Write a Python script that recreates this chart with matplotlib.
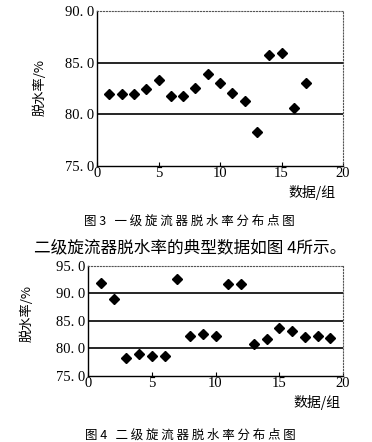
import matplotlib.pyplot as plt

plt.rcParams['font.family'] = ['Noto Sans CJK SC', 'DejaVu Sans']

# 图3 一级旋流器
x1 = list(range(1, 18))
y1 = [81.95, 81.95, 81.95, 82.45, 83.35, 81.75, 81.75, 82.55, 83.95, 83.05,
      82.05, 81.3, 78.25, 85.75, 85.95, 80.6, 83.05]

# 图4 二级旋流器
x2 = list(range(1, 20))
y2 = [91.8, 89.0, 78.2, 79.0, 78.6, 78.6, 92.5, 82.2, 82.5, 82.2,
      91.6, 91.6, 80.8, 81.7, 83.7, 83.1, 82.0, 82.3, 81.9]

W, H = 372, 442
fig = plt.figure(figsize=(W / 100, H / 100), dpi=100)


def px(x, y):
    return x / W, 1 - y / H


def draw(ax, xs, ys, ylim, yticks, grid):
    ax.plot(xs, ys, 'D', color='black', markersize=4.8, linestyle='none', zorder=3)
    for g in grid:
        ax.axhline(g, color='black', lw=1.2, zorder=1)
    ax.set_xlim(0, 20)
    ax.set_ylim(*ylim)
    ax.set_xticks([0, 5, 10, 15, 20])
    ax.set_yticks(yticks)
    ax.set_yticklabels([('%.1f' % t).replace('.', '. ') for t in yticks],
                       family='Liberation Serif', fontsize=10.5)
    ax.set_xticklabels(['0', '5', '10', '15', '20'], family='Liberation Serif', fontsize=10.5)
    ax.tick_params(axis='x', direction='in', length=3, pad=1)
    ax.tick_params(axis='y', length=0, pad=2)
    for s in ['top', 'right']:
        ax.spines[s].set_linestyle(':')
        ax.spines[s].set_color('#555555')
    for s in ['left', 'bottom']:
        ax.spines[s].set_color('black')
        ax.spines[s].set_linewidth(1.0)


ax1 = fig.add_axes([97 / W, 1 - 166 / H, 246 / W, 155 / H])
draw(ax1, x1, y1, (75, 90), [75, 80, 85, 90], [80, 85])

ax2 = fig.add_axes([88 / W, 1 - 375.7 / H, 255 / W, 110 / H])
draw(ax2, x2, y2, (75, 95), [75, 80, 85, 90, 95], [80, 85, 90])

# 轴标题
fig.text(*px(40, 87), '脱水率/%', rotation=90, ha='center', va='center', fontsize=9.5)
fig.text(*px(312, 193), '数据/组', ha='center', va='center', fontsize=10)
fig.text(*px(27, 313), '脱水率/%', rotation=90, ha='center', va='center', fontsize=9.5)
fig.text(*px(317, 402), '数据/组', ha='center', va='center', fontsize=10)

# 图题与正文
fig.text(*px(189, 221), '图 3   一 级 旋 流 器 脱 水 率 分 布 点 图', ha='center', va='center', fontsize=9)
fig.text(*px(190, 248), '二级旋流器脱水率的典型数据如图 4所示。', ha='center', va='center', fontsize=12)
fig.text(*px(190, 435), '图 4   二 级 旋 流 器 脱 水 率 分 布 点 图', ha='center', va='center', fontsize=9)

fig.savefig('out.png', dpi=100)
